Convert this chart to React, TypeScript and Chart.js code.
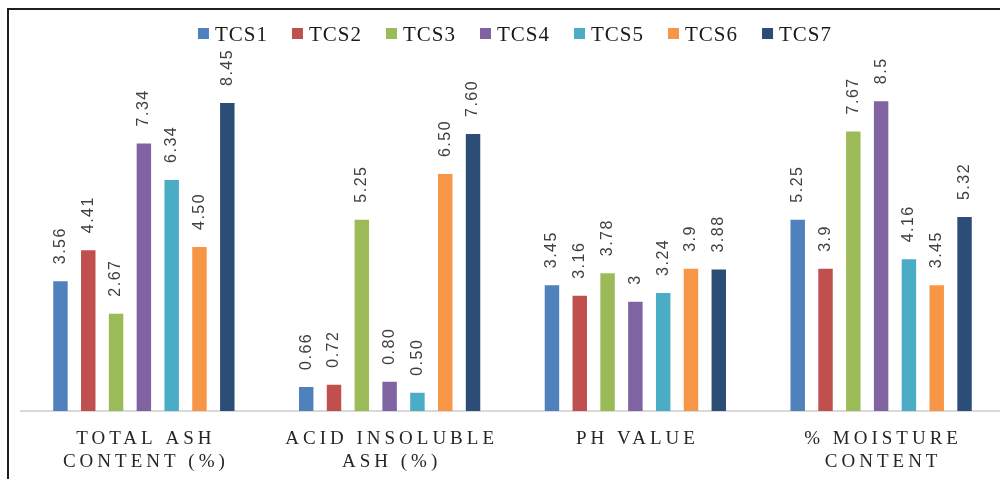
import React, { useEffect, useRef } from "react";
import { Chart, registerables } from "chart.js";

Chart.register(...registerables);

// Category names, one array of lines per group
const categories: string[][] = [
  ["TOTAL ASH", "CONTENT (%)"],
  ["ACID INSOLUBLE", "ASH (%)"],
  ["PH VALUE"],
  ["% MOISTURE", "CONTENT"],
];

const seriesNames = ["TCS1", "TCS2", "TCS3", "TCS4", "TCS5", "TCS6", "TCS7"];
const seriesColors = ["#4F81BD", "#C0504D", "#9BBB59", "#8064A2", "#4BACC6", "#F79646", "#2C4D75"];

// Values as printed above each bar; the bars are drawn from the same numbers
const tcs1 = ["3.56", "0.66", "3.45", "5.25"];
const tcs2 = ["4.41", "0.72", "3.16", "3.9"];
const tcs3 = ["2.67", "5.25", "3.78", "7.67"];
const tcs4 = ["7.34", "0.80", "3", "8.5"];
const tcs5 = ["6.34", "0.50", "3.24", "4.16"];
const tcs6 = ["4.50", "6.50", "3.9", "3.45"];
const tcs7 = ["8.45", "7.60", "3.88", "5.32"];

const seriesText = [tcs1, tcs2, tcs3, tcs4, tcs5, tcs6, tcs7];

const yMin = 0;
const yMax = 10;

const CANVAS_W = 1010;
const CANVAS_H = 479;

// Legend row drawn across the top
const legendPlugin = {
  id: "topLegend",
  afterDraw(chart: any) {
    const ctx = chart.ctx as CanvasRenderingContext2D;
    const box = 11;
    const boxGap = 6;
    const itemGap = 24;
    const centerX = 515;
    const baseline = 41;
    ctx.save();
    ctx.font = "21px 'Liberation Serif', 'Times New Roman', serif";
    (ctx as any).letterSpacing = "1px";
    ctx.textBaseline = "alphabetic";
    ctx.textAlign = "left";
    const items = chart.data.datasets.map((ds: any) => ({
      label: ds.label as string,
      color: ds.backgroundColor as string,
      w: ctx.measureText(ds.label).width,
    }));
    const total =
      items.reduce((s: number, it: any) => s + box + boxGap + it.w, 0) + itemGap * (items.length - 1);
    let x = centerX - total / 2;
    for (const it of items) {
      ctx.fillStyle = it.color;
      ctx.fillRect(x, baseline - 13, box, box);
      ctx.fillStyle = "#1a1a1a";
      ctx.fillText(it.label, x + box + boxGap, baseline);
      x += box + boxGap + it.w + itemGap;
    }
    ctx.restore();
  },
};

// Rotated value labels above each bar
const valueLabelPlugin = {
  id: "valueLabels",
  afterDatasetsDraw(chart: any) {
    const ctx = chart.ctx as CanvasRenderingContext2D;
    ctx.save();
    ctx.font = "16px 'Liberation Sans', Arial, sans-serif";
    (ctx as any).letterSpacing = "1.5px";
    ctx.fillStyle = "#404040";
    ctx.textAlign = "left";
    ctx.textBaseline = "middle";
    chart.data.datasets.forEach((ds: any, di: number) => {
      const meta = chart.getDatasetMeta(di);
      meta.data.forEach((bar: any, i: number) => {
        const text = seriesText[di][i];
        ctx.save();
        ctx.translate(bar.x, bar.y - 17);
        ctx.rotate(-Math.PI / 2);
        ctx.fillText(text, 0, 0);
        ctx.restore();
      });
    });
    ctx.restore();
  },
};

// Spaced-out category names under the axis
const categoryLabelPlugin = {
  id: "categoryLabels",
  afterDraw(chart: any) {
    const ctx = chart.ctx as CanvasRenderingContext2D;
    const xScale = chart.scales.x;
    const bottom = chart.chartArea.bottom;
    ctx.save();
    ctx.font = "19px 'Liberation Serif', 'Times New Roman', serif";
    (ctx as any).letterSpacing = "4px";
    ctx.fillStyle = "#262626";
    ctx.textAlign = "center";
    ctx.textBaseline = "alphabetic";
    categories.forEach((lines, i) => {
      const x = xScale.getPixelForValue(i);
      lines.forEach((line, li) => {
        ctx.fillText(line, x + 2, bottom + 33 + li * 23);
      });
    });
    ctx.restore();
  },
};

export default function App() {
  const canvasRef = useRef<HTMLCanvasElement | null>(null);

  useEffect(() => {
    if (!canvasRef.current) return;
    const chart = new Chart(canvasRef.current, {
      type: "bar",
      data: {
        labels: categories.map((c) => c.join(" ")),
        datasets: seriesNames.map((name, i) => ({
          label: name,
          data: seriesText[i].map((v) => Number(v)),
          backgroundColor: seriesColors[i],
          borderWidth: 0,
          categoryPercentage: 0.792,
          barPercentage: 0.52,
        })),
      },
      options: {
        animation: false,
        responsive: false,
        maintainAspectRatio: false,
        devicePixelRatio: 1,
        layout: {
          padding: { left: 21, right: CANVAS_W - 1004, top: 46.5, bottom: CANVAS_H - 411 },
        },
        plugins: {
          legend: { display: false },
          tooltip: { enabled: false },
          title: { display: false },
        },
        scales: {
          x: {
            grid: { display: false, drawTicks: false },
            ticks: { display: false },
            border: { display: true, color: "#D9D9D9", width: 2 },
            afterFit: (s: any) => {
              s.height = 0;
            },
          },
          y: {
            display: false,
            min: yMin,
            max: yMax,
          },
        },
      },
      plugins: [legendPlugin, valueLabelPlugin, categoryLabelPlugin],
    });
    return () => chart.destroy();
  }, []);

  return (
    <div
      style={{
        position: "fixed",
        left: 0,
        top: 0,
        width: 1000,
        height: 479,
        overflow: "hidden",
        background: "#ffffff",
      }}
    >
      <canvas
        ref={canvasRef}
        width={CANVAS_W}
        height={CANVAS_H}
        style={{ position: "absolute", left: 0, top: 0, width: CANVAS_W, height: CANVAS_H }}
      />
      <div
        style={{
          position: "absolute",
          left: 7,
          top: 8,
          width: 2000,
          height: 2000,
          borderTop: "2px solid #1f1f1f",
          borderLeft: "2px solid #1f1f1f",
          pointerEvents: "none",
        }}
      />
    </div>
  );
}
